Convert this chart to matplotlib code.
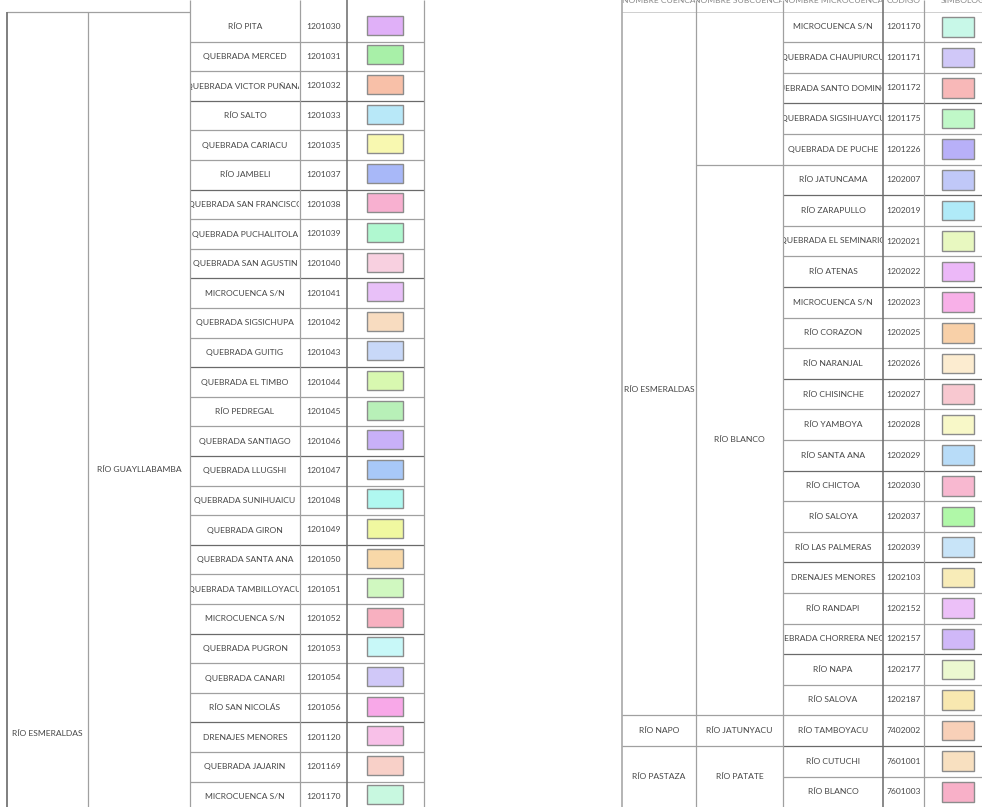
import matplotlib
matplotlib.use("Agg")
import matplotlib.pyplot as plt
from matplotlib.patches import Rectangle

# ---------------- data ----------------
left_names = ["RÍO PITA", "QUEBRADA MERCED", "QUEBRADA VICTOR PUÑANA", "RÍO SALTO",
              "QUEBRADA CARIACU", "RÍO JAMBELI", "QUEBRADA SAN FRANCISCO",
              "QUEBRADA PUCHALITOLA", "QUEBRADA SAN AGUSTIN", "MICROCUENCA S/N",
              "QUEBRADA SIGSICHUPA", "QUEBRADA GUITIG", "QUEBRADA EL TIMBO",
              "RÍO PEDREGAL", "QUEBRADA SANTIAGO", "QUEBRADA LLUGSHI",
              "QUEBRADA SUNIHUAICU", "QUEBRADA GIRON", "QUEBRADA SANTA ANA",
              "QUEBRADA TAMBILLOYACU", "MICROCUENCA S/N", "QUEBRADA PUGRON",
              "QUEBRADA CANARI", "RÍO SAN NICOLÁS", "DRENAJES MENORES",
              "QUEBRADA JAJARIN", "MICROCUENCA S/N"]
left_codes = ["1201030", "1201031", "1201032", "1201033", "1201035", "1201037",
              "1201038", "1201039", "1201040", "1201041", "1201042", "1201043",
              "1201044", "1201045", "1201046", "1201047", "1201048", "1201049",
              "1201050", "1201051", "1201052", "1201053", "1201054", "1201056",
              "1201120", "1201169", "1201170"]
left_colors = ["#e0b0f8", "#a8f0a8", "#f8c0a8", "#b8e8f8", "#f8f8b0", "#a8b8f8",
               "#f8b0d0", "#b0f8d0", "#f8d0e0", "#e8c0f8", "#f8dcc0", "#c8d8f8",
               "#d8f8b0", "#b8f0b8", "#c8b0f8", "#a8c8f8", "#b0f8f0", "#f0f8a0",
               "#f8d8a8", "#d0f8c0", "#f8b0c0", "#c8f8f8", "#d0c8f8", "#f8a8e8",
               "#f8c0e8", "#f8d0c8", "#c8f8e0"]
left_cuenca = "RÍO ESMERALDAS"
left_subcuenca = "RÍO GUAYLLABAMBA"

right_names = ["MICROCUENCA S/N", "QUEBRADA CHAUPIURCU", "QUEBRADA SANTO DOMINGO",
               "QUEBRADA SIGSIHUAYCU", "QUEBRADA DE PUCHE", "RÍO JATUNCAMA",
               "RÍO ZARAPULLO", "QUEBRADA EL SEMINARIO", "RÍO ATENAS",
               "MICROCUENCA S/N", "RÍO CORAZON", "RÍO NARANJAL", "RÍO CHISINCHE",
               "RÍO YAMBOYA", "RÍO SANTA ANA", "RÍO CHICTOA", "RÍO SALOYA",
               "RÍO LAS PALMERAS", "DRENAJES MENORES", "RÍO RANDAPI",
               "QUEBRADA CHORRERA NEGRA", "RÍO NAPA", "RÍO SALOVA",
               "RÍO TAMBOYACU", "RÍO CUTUCHI", "RÍO BLANCO"]
right_codes = ["1201170", "1201171", "1201172", "1201175", "1201226", "1202007",
               "1202019", "1202021", "1202022", "1202023", "1202025", "1202026",
               "1202027", "1202028", "1202029", "1202030", "1202037", "1202039",
               "1202103", "1202152", "1202157", "1202177", "1202187", "7402002",
               "7601001", "7601003"]
right_colors = ["#c8f8e8", "#d0c8f8", "#f8b8b8", "#c0f8c8", "#b8b0f8", "#c0c8f8",
                "#b0eaf8", "#e8f8c0", "#ecb8f8", "#f8b0e8", "#f8d0a8", "#fcecd0",
                "#f8c8d0", "#f8f8c8", "#b8dcf8", "#f8b8d0", "#b0f8a8", "#c8e4f8",
                "#f8ecb8", "#ecc0f8", "#d0b8f8", "#ecf8d0", "#f8e8b0", "#f8d0b8",
                "#f8e0c0", "#f8b0c8"]
# (label, first row, number of rows) for right-side group columns
right_cuencas = [("", 0, 0), ("RÍO NAPO", 23, 1), ("RÍO PASTAZA", 24, 2)]
right_subcuencas = [("", 0, 5), ("RÍO BLANCO", 5, 18), ("RÍO JATUNYACU", 23, 1),
                    ("RÍO PATATE", 24, 2)]
right_headers = ["NOMBRE CUENCA", "NOMBRE SUBCUENCA", "NOMBRE MICROCUENCA",
                 "CÓDIGO", "SIMBOLOGÍA"]

# ---------------- layout ----------------
W, H = 982, 807
fig = plt.figure(figsize=(W / 100, H / 100), dpi=100)
ax = fig.add_axes([0, 0, 1, 1])
ax.set_xlim(0, W)
ax.set_ylim(H, 0)
ax.axis("off")

TXT = "#474747"
LINE = "#a0a0a0"
DARK = "#6a6a6a"
FONT = ["Lato", "DejaVu Sans"]
FS = 6.1


def cell_text(x0, x1, y, s, color=TXT):
    t = ax.text((x0 + x1) / 2, y, s, ha="center", va="center", fontsize=FS,
                color=color, family=FONT, clip_on=True)
    clip = Rectangle((x0 + 0.8, -20), x1 - x0 - 1.6, H + 40,
                     transform=ax.transData)
    t.set_clip_path(clip)
    return t


def hline(y, x0, x1, c=LINE, lw=0.9):
    ax.plot([x0, x1], [y, y], color=c, lw=lw, solid_capstyle="butt")


def vline(x, y0, y1, c=LINE, lw=0.9):
    ax.plot([x, x], [y0, y1], color=c, lw=lw, solid_capstyle="butt")


# ----- left table -----
Lx = [7, 88, 190, 300, 347, 424]
Ltop, Lrh = 12, 29.6
nL = len(left_names)
for i in range(nL):
    y0 = Ltop + i * Lrh
    yc = y0 + Lrh / 2
    cell_text(Lx[2], Lx[3], yc, left_names[i])
    cell_text(Lx[3], Lx[4], yc, left_codes[i])
    sw_h = Lrh * 0.64
    sx0, sx1 = 367, 403
    ax.add_patch(Rectangle((sx0, yc - sw_h / 2 - 1.5), sx1 - sx0, sw_h,
                           facecolor=left_colors[i], edgecolor="#8c8c8c", lw=1.0))
    if i > 0:
        hline(y0, Lx[2], Lx[5], c=(DARK if i % 3 == 0 else LINE))
hline(Ltop, Lx[0], Lx[2], c=LINE)
vline(Lx[0], Ltop, H, c=DARK, lw=1.2)
vline(Lx[1], Ltop, H, c=LINE)
vline(Lx[2], 0, H, c=LINE)
vline(Lx[3], 0, H, c=LINE)
vline(Lx[4], 0, H, c=DARK, lw=1.1)
vline(Lx[5], 0, H, c=LINE)
cell_text(Lx[0], Lx[1], 734, left_cuenca)
cell_text(Lx[1], Lx[2], 469, left_subcuenca)

# ----- right table -----
Rx = [622, 696, 783, 883, 924, 1010]
Rtop, Rrh = 11.5, 30.6
nR = len(right_names)
for i in range(nR):
    y0 = Rtop + i * Rrh
    yc = y0 + Rrh / 2
    cell_text(Rx[2], Rx[3], yc, right_names[i])
    cell_text(Rx[3], Rx[4], yc, right_codes[i])
    sw_h = Rrh * 0.64
    sx0, sx1 = 942, 974
    ax.add_patch(Rectangle((sx0, yc - sw_h / 2), sx1 - sx0, sw_h,
                           facecolor=right_colors[i], edgecolor="#8c8c8c", lw=1.0))
    if i > 0:
        hline(y0, Rx[2], W, c=(DARK if i % 3 == 0 else LINE))

# header row (mostly cut off by the top edge, as in the source)
for j, h in enumerate(right_headers):
    cell_text(Rx[j], Rx[j + 1], 0.5, h, color="#8a8a8a")
hline(Rtop, Rx[0], W, c="#c8c8c8", lw=0.6)

# group columns
for label, r0, n in right_subcuencas:
    if r0 > 0:
        hline(Rtop + r0 * Rrh, Rx[1], Rx[2], c=LINE)
    if label:
        cell_text(Rx[1], Rx[2], Rtop + (r0 + n / 2) * Rrh, label)
for label, r0, n in right_cuencas:
    if label:
        hline(Rtop + r0 * Rrh, Rx[0], Rx[1], c=LINE)
        cell_text(Rx[0], Rx[1], Rtop + (r0 + n / 2) * Rrh, label)
cell_text(Rx[0], Rx[1], 390, left_cuenca)

vline(Rx[0], 0, H, c=LINE, lw=1.1)
vline(Rx[1], 0, H, c=LINE)
vline(Rx[2], 0, H, c=LINE)
vline(Rx[3], 0, H, c=DARK, lw=1.1)
vline(Rx[4], 0, H, c=LINE)

fig.savefig("out.png", dpi=100, facecolor="white")
